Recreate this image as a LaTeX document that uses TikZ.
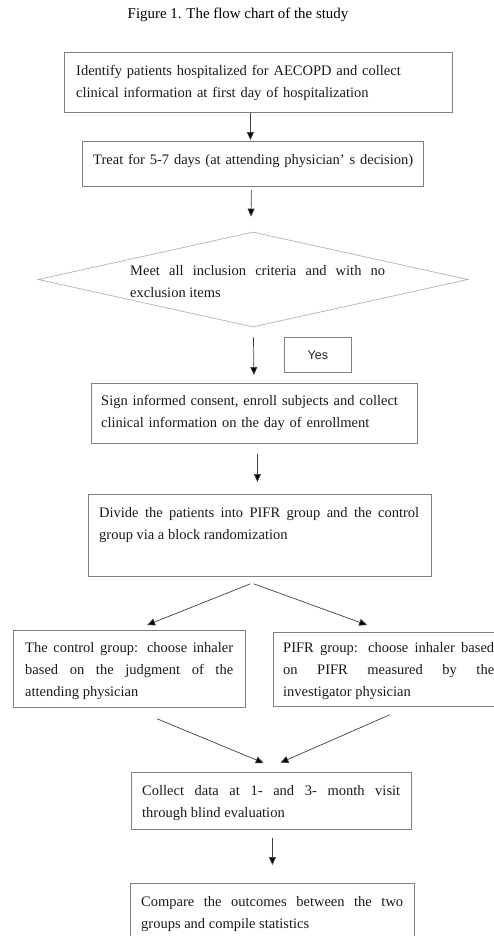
\documentclass[tikz,border=0pt]{standalone}
\usepackage{fontspec}
\setmainfont{Liberation Serif}
\newfontfamily\yesfont{Liberation Sans}
\usetikzlibrary{arrows.meta,shapes.geometric}

\begin{document}
\begin{tikzpicture}[x=1bp,y=-1bp,
  box/.style={draw=black!50, line width=0.8bp, inner sep=0pt, anchor=north west},
  txt/.style={inner sep=0pt, anchor=base west, text=black!90,
    font=\fontsize{14.5bp}{22bp}\selectfont},
  jtxt/.style={txt, align=justify,
    execute at begin node={\tolerance=9999\exhyphenpenalty=10000\hyphenpenalty=10000}},
  ltxt/.style={txt, align=left, text width=360bp},
  arr/.style={draw=black!75, line width=0.7bp,
    -{Triangle[length=8bp,width=7bp,fill=black]}}
]
\useasboundingbox (0,0) rectangle (494,936);
\clip (0,0) rectangle (494,936);

% title
\node[inner sep=0pt, anchor=base, font=\fontsize{14.9bp}{18bp}\selectfont]
  (title) at (238,18.5) {Figure 1. The flow chart of the study};

% boxes
\node[box, minimum width=388bp, minimum height=60bp] (b1) at (64,52) {};
\node[ltxt] (t1) at (76,75) {Identify patients hospitalized for AECOPD and collect\\
  clinical information at first day of hospitalization};

\node[box, minimum width=341bp, minimum height=45bp] (b2) at (82,141) {};
\node[ltxt] (t2) at (93,164) {Treat for 5-7 days (at attending physician’ s decision)};

\node[diamond, draw=black!30, line width=0.7bp, inner sep=0pt,
  minimum width=430bp, minimum height=95bp] (dia) at (253,279.5) {};
\node[jtxt, text width=255bp] (td) at (130,275) {Meet all inclusion criteria and with no\linebreak
  exclusion items};

\node[box, minimum width=67bp, minimum height=35bp] (yes) at (284,337) {};
\node[inner sep=0pt, font=\yesfont\fontsize{12.6bp}{14bp}\selectfont, text=black!85]
  (tyes) at (yes.center) {Yes};

\node[box, minimum width=326bp, minimum height=60bp] (b3) at (91,383) {};
\node[ltxt] (t3) at (101,405) {Sign informed consent, enroll subjects and collect\\
  clinical information on the day of enrollment};

\node[box, minimum width=343bp, minimum height=82bp] (b4) at (88,494) {};
\node[jtxt, text width=320bp] (t4) at (99,517) {Divide the patients into PIFR group and the control\linebreak
  group via a block randomization};

\node[box, minimum width=232bp, minimum height=77bp] (b5) at (13,630) {};
\node[jtxt, text width=208bp] (t5) at (25,652.5) {The control group: choose inhaler\linebreak
  based on the judgment of the\linebreak attending physician};

\node[box, minimum width=232bp, minimum height=74bp] (b6) at (273,632) {};
\node[jtxt, text width=211bp] (t6) at (283,652.5) {PIFR group: choose inhaler based\linebreak
  on PIFR measured by the\linebreak investigator physician};

\node[box, minimum width=280bp, minimum height=57bp] (b7) at (131,772) {};
\node[jtxt, text width=258bp] (t7) at (142,795) {Collect data at 1- and 3- month visit\linebreak
  through blind evaluation};

\node[box, minimum width=284bp, minimum height=70bp] (b8) at (130,883) {};
\node[jtxt, text width=262bp] (t8) at (141,906) {Compare the outcomes between the two\linebreak
  groups and compile statistics};

% connectors
\draw[arr] ([xshift=-8bp]b1.south) -- ([xshift=-2.5bp,yshift=1bp]b2.north);
\draw[arr] ([xshift=-1.5bp,yshift=-3bp]b2.south) -- ([xshift=-2bp,yshift=15bp]dia.north);
\draw[arr] ([xshift=0.5bp,yshift=-10bp]dia.south) -- ([xshift=-0.5bp,yshift=8bp]b3.north);
\draw[arr] ([xshift=3bp,yshift=-10bp]b3.south) -- ([xshift=-2.5bp,yshift=12bp]b4.north);
\draw[arr] ([xshift=-9.5bp,yshift=-7bp]b4.south) -- ([xshift=17.7bp,yshift=5bp]b5.north);
\draw[arr] ([xshift=-6.2bp,yshift=-7bp]b4.south) -- ([xshift=-22.3bp,yshift=7bp]b6.north);
\draw[arr] ([xshift=27.7bp,yshift=-11bp]b5.south) -- ([xshift=-7.7bp,yshift=9bp]b7.north);
\draw[arr] ([xshift=0.3bp,yshift=-8bp]b6.south) -- ([xshift=9bp,yshift=9.3bp]b7.north);
\draw[arr] ([xshift=1bp,yshift=-8bp]b7.south) -- ([yshift=18bp]b8.north);
\end{tikzpicture}
\end{document}
